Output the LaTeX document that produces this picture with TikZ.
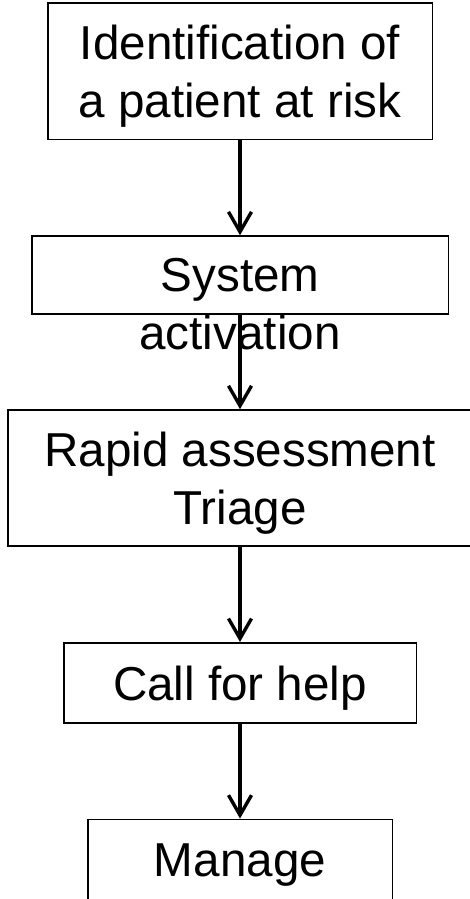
\documentclass[tikz,border=0pt]{standalone}
\usepackage{fontspec}
\setmainfont{Liberation Sans}
\usetikzlibrary{arrows.meta,positioning}

\begin{document}
\begin{tikzpicture}[x=1pt, y=-1pt,
    stage/.style={rectangle, draw, line width=1.6pt, align=center, inner sep=0pt, text depth=0pt,
        font=\fontsize{47.6}{57.5}\selectfont},
    flow/.style={line width=3.4pt, -{Straight Barb[length=20pt, width=23pt]}}]

                \useasboundingbox (0,0) rectangle (470,899);

                \node[stage, minimum width=384.6pt, minimum height=136pt] (ident) at (240,71.3) {Identification of\\a patient at risk};
                \node[stage, minimum width=416.6pt, minimum height=77.7pt] (sys) at (240,274.9) {System};
                \node[anchor=base, inner sep=0pt, font=\fontsize{47.6}{57.5}\selectfont] (sysact) at ([yshift=-57.5pt]sys.base) {activation};
                \node[stage, minimum width=464.6pt, minimum height=136pt] (rapid) at (240,478) {Rapid assessment\\Triage};
                \node[stage, minimum width=352.6pt, minimum height=80.3pt] (help) at (240,682.9) {Call for help};
                \node[stage, minimum width=304.6pt, minimum height=80.7pt] (manage) at (240,859.7) {Manage};

                \foreach \s/ \d in {ident/sys, sys/rapid, rapid/help, help/manage}{
                    \draw[flow] (\s.south) -- (\d.north);
                }

        \end{tikzpicture}
\end{document}
